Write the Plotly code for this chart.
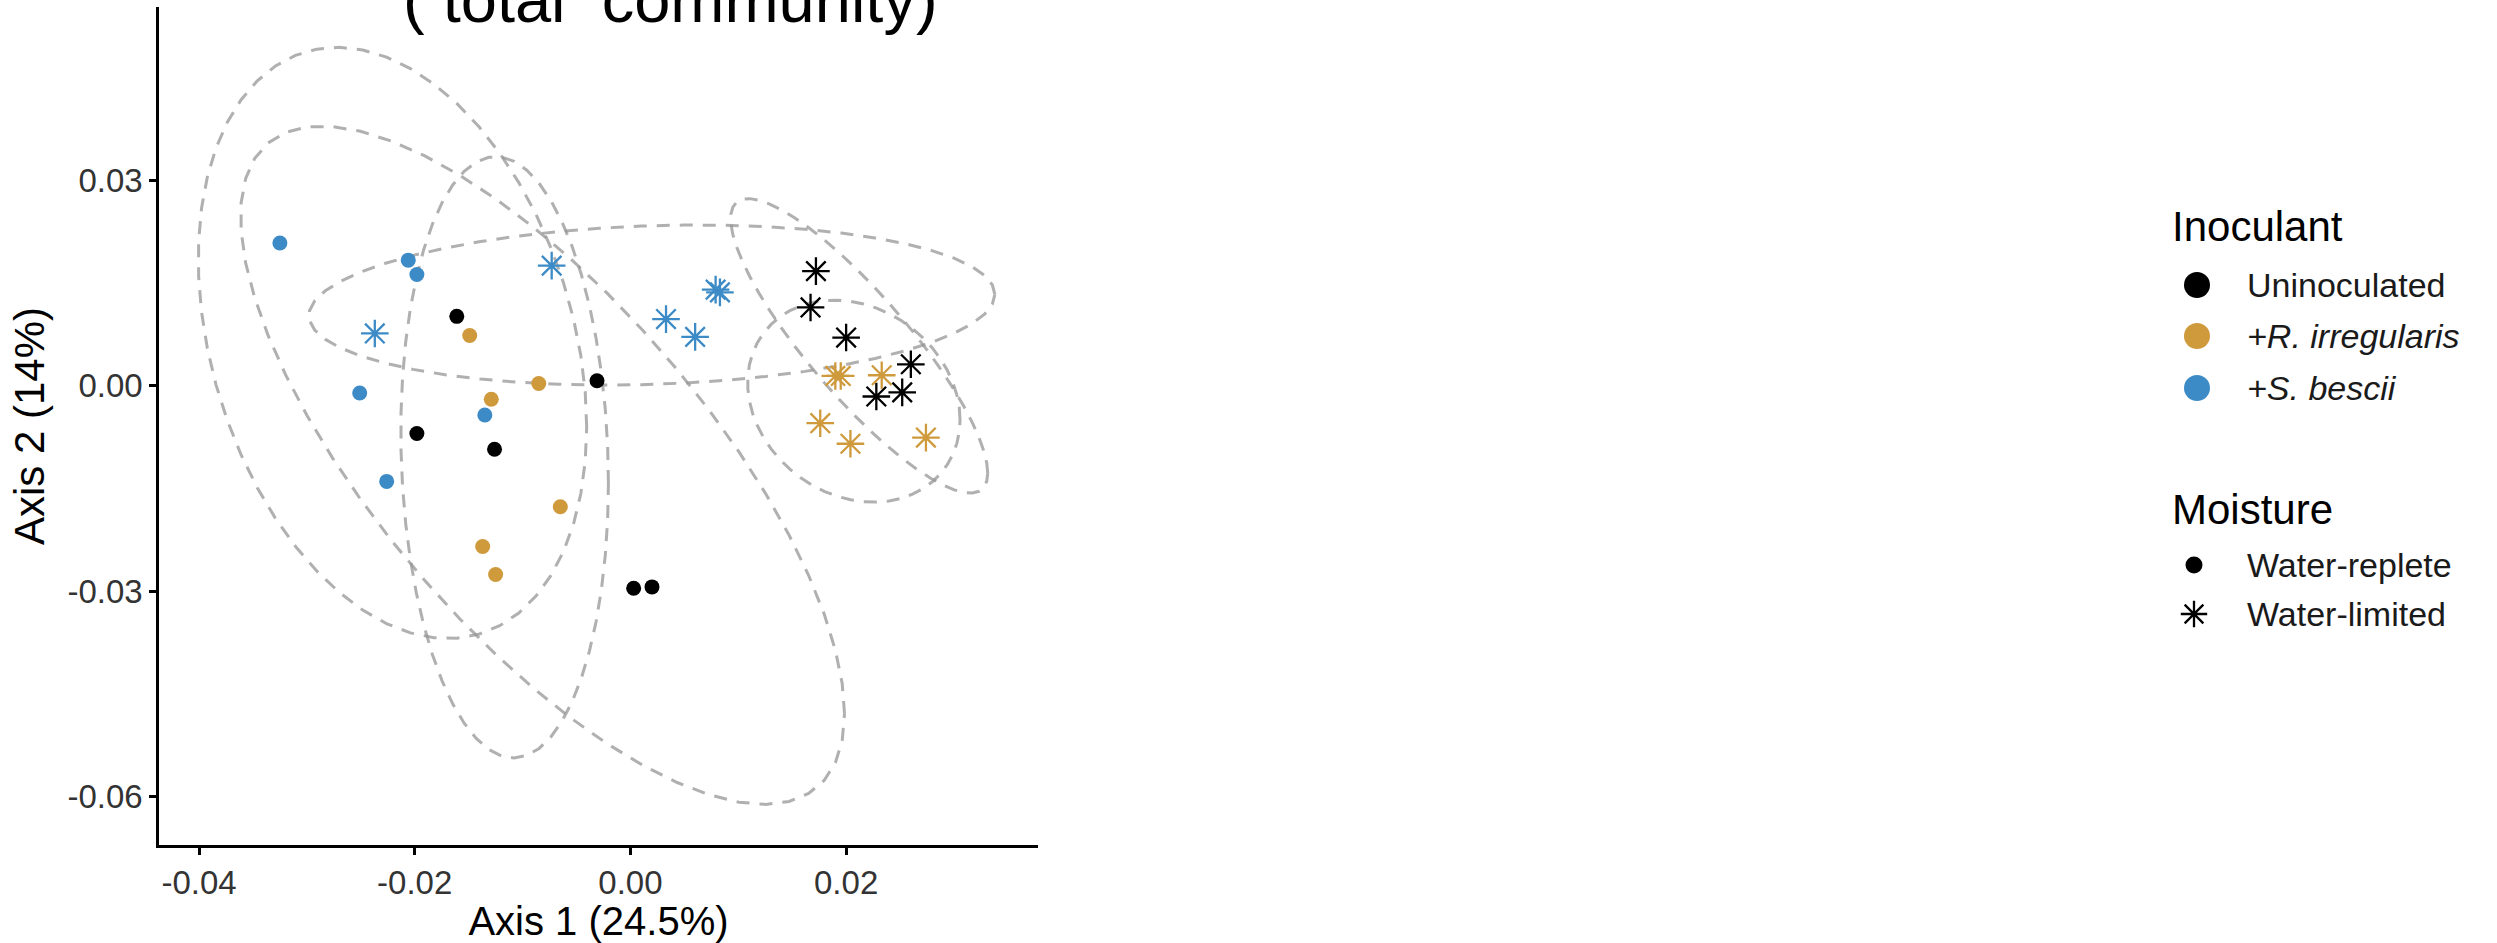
import numpy as np
import plotly.graph_objects as go

# ---------------- data ----------------
inoculants = ["Uninoculated", "+R. irregularis", "+S. bescii"]
moistures = ["Water-replete", "Water-limited"]

# Uninoculated
unin_rep_x = [-0.0161, -0.0031, -0.0198, -0.0126, 0.0003, 0.0020]
unin_rep_y = [0.0101, 0.0007, -0.0070, -0.0093, -0.0296, -0.0294]
unin_lim_x = [0.0172, 0.0167, 0.0200, 0.0260, 0.0228, 0.0252]
unin_lim_y = [0.0167, 0.0114, 0.0070, 0.0031, -0.0016, -0.0010]
# +R. irregularis
rirr_rep_x = [-0.0149, -0.0129, -0.0085, -0.0065, -0.0137, -0.0125]
rirr_rep_y = [0.0073, -0.0020, 0.0003, -0.0177, -0.0235, -0.0276]
rirr_lim_x = [0.0190, 0.0195, 0.0233, 0.0176, 0.0204, 0.0274]
rirr_lim_y = [0.0014, 0.0014, 0.0015, -0.0055, -0.0085, -0.0076]
# +S. bescii
sbes_rep_x = [-0.0325, -0.0206, -0.0198, -0.0251, -0.0226, -0.0135]
sbes_rep_y = [0.0208, 0.0183, 0.0162, -0.0011, -0.0140, -0.0043]
sbes_lim_x = [-0.0237, -0.0073, 0.0033, 0.0060, 0.0079, 0.0083]
sbes_lim_y = [0.0076, 0.0175, 0.0097, 0.0071, 0.0140, 0.0136]

x_tickvals = [-0.04, -0.02, 0.00, 0.02]
x_ticktext = ["-0.04", "-0.02", "0.00", "0.02"]
y_tickvals = [0.03, 0.00, -0.03, -0.06]
y_ticktext = ["0.03", "0.00", "-0.03", "-0.06"]

x_title = "Axis 1 (24.5%)"
y_title = "Axis 2 (14%)"
plot_title = "( total  community)"

# ---------------- styles ----------------
colors = {"Uninoculated": "#000000", "+R. irregularis": "#CF9A3C", "+S. bescii": "#3D8BC6"}
FONT = "Liberation Sans, Arial, sans-serif"

groups = [
    ("Uninoculated", "Water-replete", unin_rep_x, unin_rep_y),
    ("Uninoculated", "Water-limited", unin_lim_x, unin_lim_y),
    ("+R. irregularis", "Water-replete", rirr_rep_x, rirr_rep_y),
    ("+R. irregularis", "Water-limited", rirr_lim_x, rirr_lim_y),
    ("+S. bescii", "Water-replete", sbes_rep_x, sbes_rep_y),
    ("+S. bescii", "Water-limited", sbes_lim_x, sbes_lim_y),
]


def cov_trob(x, nu=5, maxit=25, tol=0.01):
    n, p = x.shape
    wt = np.ones(n)
    loc = x.mean(axis=0)
    w = np.sqrt(wt)
    X = x - loc
    for _ in range(maxit):
        w0 = w
        X = x - loc
        _, d, vt = np.linalg.svd(np.sqrt(w / w.sum())[:, None] * X, full_matrices=False)
        wX = X @ vt.T @ np.diag(1.0 / d)
        Q = (wX ** 2).sum(axis=1)
        w = (wt * (nu + p)) / (nu + Q)
        loc = (w[:, None] * x).sum(axis=0) / w.sum()
        if np.all(np.abs(w - w0) < tol):
            break
    sw = np.sqrt(w)[:, None] * X
    cov = sw.T @ sw / wt.sum()
    return cov, loc


def stat_ellipse(xs, ys, level=0.95, segments=51):
    pts = np.column_stack([xs, ys])
    cov, center = cov_trob(pts)
    dfn, dfd = 2, len(xs) - 1
    fq = (dfd / 2.0) * ((1 - level) ** (-2.0 / dfd) - 1)
    radius = np.sqrt(dfn * fq)
    R = np.linalg.cholesky(cov).T
    ang = np.arange(segments + 1) * 2 * np.pi / segments
    circ = np.column_stack([np.cos(ang), np.sin(ang)])
    ell = center + radius * (circ @ R)
    return ell[:, 0], ell[:, 1]


fig = go.Figure()

# ellipses
for ino, moi, xs, ys in groups:
    ex, ey = stat_ellipse(np.array(xs), np.array(ys))
    fig.add_trace(go.Scatter(x=ex, y=ey, mode="lines",
                             line=dict(color="rgba(150,150,150,0.75)", width=3, dash="13px,10px"),
                             showlegend=False, hoverinfo="skip"))

# points
for ino, moi, xs, ys in groups:
    if moi == "Water-replete":
        marker = dict(symbol="circle", size=15, color=colors[ino], line=dict(width=0))
    else:
        marker = dict(symbol="asterisk-open", size=23, color=colors[ino],
                      line=dict(width=2.3, color=colors[ino]))
    fig.add_trace(go.Scatter(x=xs, y=ys, mode="markers", marker=marker,
                             name=f"{ino}, {moi}", showlegend=False))

# ---------------- custom legend (pixel-space helper axes) ----------------
leg_items = [
    (2197, 285, "circle", 26, "Uninoculated", colors["Uninoculated"], "Uninoculated"),
    (2197, 336, "circle", 26, "+R. irregularis", colors["+R. irregularis"], "<i>+R. irregularis</i>"),
    (2197, 388, "circle", 26, "+S. bescii", colors["+S. bescii"], "<i>+S. bescii</i>"),
    (2194, 565, "circle", 17, "Water-replete", "#000000", "Water-replete"),
    (2194, 614, "asterisk-open", 22, "Water-limited", "#000000", "Water-limited"),
]
for lx, ly, sym, sz, nm, col, txt in leg_items:
    mk = dict(symbol=sym, size=sz, color=col)
    if sym == "asterisk-open":
        mk["line"] = dict(width=2.3, color=col)
    else:
        mk["line"] = dict(width=0)
    fig.add_trace(go.Scatter(x=[lx], y=[ly], mode="markers", marker=mk, xaxis="x2", yaxis="y2",
                             showlegend=False, hoverinfo="skip", name=nm))
    fig.add_annotation(x=2245, y=ly, xref="x2", yref="y2", text=txt, showarrow=False,
                       xanchor="left", yanchor="middle", font=dict(family=FONT, size=34, color="#1a1a1a"))

for ttl, ty in [("Inoculant", 226), ("Moisture", 509)]:
    fig.add_annotation(x=2170, y=ty, xref="x2", yref="y2", text=ttl, showarrow=False,
                       xanchor="left", yanchor="middle", font=dict(family=FONT, size=42, color="#000000"))

W, H = 2497, 943
L, T, B = 159, 7, 98
plot_w = W - L
x_dom_end = (1038 - L) / plot_w
leg_start = (2100 - L) / plot_w

fig.add_annotation(x=(670 - L) / plot_w, y=1.009, xref="paper", yref="paper", text=plot_title,
                   showarrow=False, xanchor="center", yanchor="middle",
                   font=dict(family=FONT, size=65, color="#000000"))

axis_common = dict(showgrid=False, zeroline=False, showline=True, linecolor="#000000", linewidth=2.5,
                   ticks="outside", ticklen=7, tickwidth=2.5, tickcolor="#000000",
                   tickfont=dict(family=FONT, size=33, color="#333333"))

fig.update_layout(
    width=W, height=H,
    margin=dict(l=L, r=0, t=T, b=B, pad=0),
    paper_bgcolor="white", plot_bgcolor="white",
    showlegend=False,
    xaxis=dict(domain=[0, x_dom_end], range=[-0.04371, 0.03779], tickvals=x_tickvals, ticktext=x_ticktext,
               title=dict(text=x_title, font=dict(family=FONT, size=40, color="#000000"), standoff=11),
               **axis_common),
    yaxis=dict(domain=[0, 1], range=[-0.06708, 0.05526], tickvals=y_tickvals, ticktext=y_ticktext,
               title=dict(text=y_title, font=dict(family=FONT, size=42, color="#000000"), standoff=10),
               **axis_common),
    xaxis2=dict(domain=[leg_start, 1], range=[2100, W], visible=False, anchor="y2"),
    yaxis2=dict(domain=[0, 1], range=[H - B, T], visible=False, anchor="x2"),
)

fig.write_html("out.html")
